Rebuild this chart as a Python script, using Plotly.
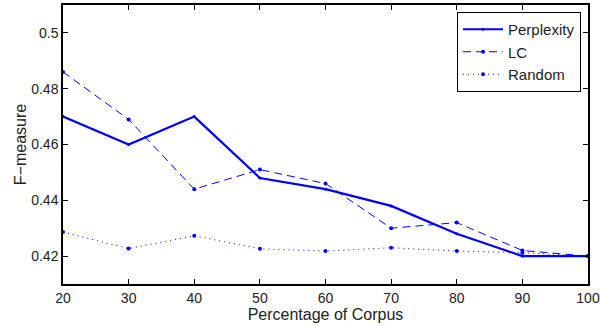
import plotly.graph_objects as go

x_vals = [20, 30, 40, 50, 60, 70, 80, 90, 100]
perplexity = [0.470, 0.460, 0.470, 0.448, 0.444, 0.438, 0.428, 0.420, 0.420]
lc = [0.486, 0.469, 0.444, 0.451, 0.446, 0.430, 0.432, 0.422, 0.420]
random_sel = [0.4286, 0.4227, 0.4273, 0.4226, 0.4218, 0.4230, 0.4218, 0.4212, 0.4200]
x_ticks = [20, 30, 40, 50, 60, 70, 80, 90, 100]
y_ticks = [0.42, 0.44, 0.46, 0.48, 0.5]
y_tick_text = ["0.42", "0.44", "0.46", "0.48", "0.5"]

fig = go.Figure()
fig.add_trace(go.Scatter(x=x_vals, y=perplexity, name="Perplexity", mode="lines+markers",
                         line=dict(color="#0000FF", width=2.2, dash="solid"),
                         marker=dict(size=3, color="#0000FF")))
fig.add_trace(go.Scatter(x=x_vals, y=lc, name="LC", mode="lines+markers",
                         line=dict(color="#0000FF", width=1, dash="8px,5px"),
                         marker=dict(size=4, color="#0000FF")))
fig.add_trace(go.Scatter(x=x_vals, y=random_sel, name="Random", mode="lines+markers",
                         line=dict(color="#0000FF", width=1, dash="1px,4px"),
                         marker=dict(size=4, color="#0000FF")))

axis_common = dict(showgrid=False, zeroline=False, showline=True, linecolor="black",
                   linewidth=1.5, mirror="ticks", ticks="inside", ticklen=5,
                   tickcolor="black", ticklabeloverflow="allow",
                   tickfont=dict(family="Liberation Sans, Arial", size=14, color="#222"))

fig.update_layout(
    width=600, height=326,
    paper_bgcolor="white", plot_bgcolor="white",
    margin=dict(l=63, r=12, t=5, b=42, autoexpand=False),
    font=dict(family="Liberation Sans, Arial", size=15, color="#222"),
    xaxis=dict(range=[20, 100], tickvals=x_ticks,
               title=dict(text="Percentage of Corpus", standoff=2, font=dict(size=16)), **axis_common),
    yaxis=dict(range=[0.41, 0.51], tickvals=y_ticks, ticktext=y_tick_text,
               title=dict(text="F\u2212measure", standoff=1, font=dict(size=16)), **axis_common),
    legend=dict(x=0.9867, y=0.975, xanchor="right", yanchor="top",
                bgcolor="white", bordercolor="black", borderwidth=1,
                font=dict(size=15, color="#222"), tracegroupgap=0, itemwidth=40),
    showlegend=True,
)

fig.write_html("out.html", config={"displayModeBar": False},
               post_script="document.body.style.margin='0';document.body.style.overflow='hidden';")
